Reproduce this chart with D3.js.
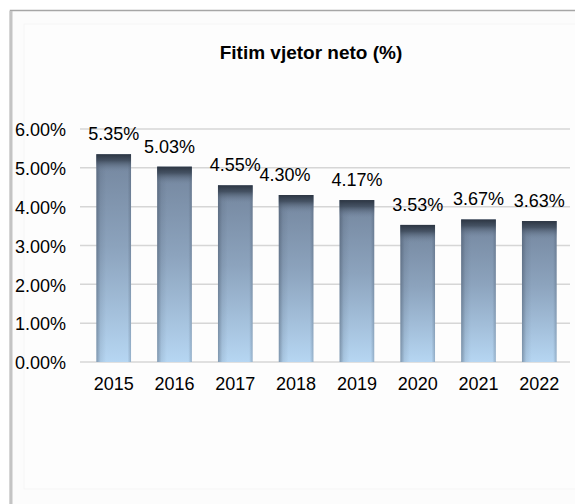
<!DOCTYPE html>
<html>
<head>
<meta charset="utf-8">
<script src="https://cdn.jsdelivr.net/npm/d3@7"></script>
<style>
    body { margin: 0; background: #ffffff; overflow: hidden; }
    svg { display: block; font-family: "Liberation Sans", Arial, sans-serif; }
</style>
</head>
<body>
<script>
"use strict";
(function(){
    // chart data
    const years = ["2015", "2016", "2017", "2018", "2019", "2020", "2021", "2022"]
    const profit = [5.35, 5.03, 4.55, 4.30, 4.17, 3.53, 3.67, 3.63]
    const yTicks = [0, 1, 2, 3, 4, 5, 6]
    const title = "Fitim vjetor neto (%)"

    // dimensions for svg
    const measurements = {
        width: 575,
        height: 504,
        left: 83,
        right: 570,
        top: 129,
        bottom: 362
    }
    // small manual shifts of some value labels, as in the original
    const labelNudge = { "2016": -5, "2018": -11 }

    const svgContainer = d3.select('body').append("svg")
        .attr('width', measurements.width)
        .attr('height', measurements.height)

    const defs = svgContainer.append("defs")

    // vertical fill of the bars
    const fillGrad = defs.append("linearGradient")
        .attr("id", "barFill").attr("x1", 0).attr("y1", 0).attr("x2", 0).attr("y2", 1)
    fillGrad.append("stop").attr("offset", "0%").attr("stop-color", "#74869e")
    fillGrad.append("stop").attr("offset", "45%").attr("stop-color", "#8ca3bd")
    fillGrad.append("stop").attr("offset", "100%").attr("stop-color", "#b6d6f2")

    // dark bevel on top of each bar
    const capGrad = defs.append("linearGradient")
        .attr("id", "barCap").attr("x1", 0).attr("y1", 0).attr("x2", 0).attr("y2", 1)
    capGrad.append("stop").attr("offset", "0%").attr("stop-color", "#2c3542").attr("stop-opacity", 1)
    capGrad.append("stop").attr("offset", "35%").attr("stop-color", "#3c4858").attr("stop-opacity", 0.85)
    capGrad.append("stop").attr("offset", "100%").attr("stop-color", "#74869e").attr("stop-opacity", 0)

    // darker side edges
    const sideGrad = defs.append("linearGradient")
        .attr("id", "barSide").attr("x1", 0).attr("y1", 0).attr("x2", 1).attr("y2", 0)
    sideGrad.append("stop").attr("offset", "0%").attr("stop-color", "#2f3a4a").attr("stop-opacity", 0.4)
    sideGrad.append("stop").attr("offset", "12%").attr("stop-color", "#2f3a4a").attr("stop-opacity", 0.1)
    sideGrad.append("stop").attr("offset", "28%").attr("stop-color", "#2f3a4a").attr("stop-opacity", 0)
    sideGrad.append("stop").attr("offset", "90%").attr("stop-color", "#2f3a4a").attr("stop-opacity", 0)
    sideGrad.append("stop").attr("offset", "100%").attr("stop-color", "#2f3a4a").attr("stop-opacity", 0.25)

    drawFrame()

    let scaleX = d3.scaleBand()
        .domain(years)
        .range([measurements.left, measurements.right])
        .paddingInner(0.43)
        .paddingOuter(0.22)

    let scaleY = d3.scaleLinear()
        .domain([0, 6])
        .range([measurements.bottom, measurements.top])

    drawAxes(scaleX, scaleY)
    plotData(scaleX, scaleY)

    function drawFrame() {
        // outer frame of the chart object, running off the right and bottom
        svgContainer.append("rect")
            .attr("x", 10.5).attr("y", 10.5)
            .attr("width", 600).attr("height", 520)
            .attr("fill", "#fcfcfc")
            .attr("stroke", "#a6a6a6")
            .attr("stroke-width", 1.5)
        svgContainer.append("line")
            .attr("x1", 11).attr("x2", 11).attr("y1", 11).attr("y2", 504)
            .attr("stroke", "#c4c4c4").attr("stroke-width", 3)
        // soft inner bevel
        svgContainer.append("rect")
            .attr("x", 24).attr("y", 24)
            .attr("width", 580).attr("height", 465)
            .attr("fill", "#fdfdfd")
            .attr("stroke", "#f5f5f5")
            .attr("stroke-width", 1)
    }

    function drawAxes(scaleX, scaleY) {
        // gridlines
        svgContainer.append('g')
            .selectAll("line")
            .data(yTicks)
            .enter()
            .append("line")
                .attr("x1", 80)
                .attr("x2", measurements.right)
                .attr("y1", d => scaleY(d))
                .attr("y2", d => scaleY(d))
                .attr("stroke", "#d6d6d6")
                .attr("stroke-width", 1.5)

        let yAxis = d3.axisLeft()
            .scale(scaleY)
            .tickValues(yTicks)
            .tickSize(0)
            .tickPadding(0)
            .tickFormat(d => d.toFixed(2) + "%")

        svgContainer.append('g')
            .attr('transform', 'translate(66, 1)')
            .call(yAxis)
            .call(g => g.select(".domain").remove())
            .selectAll("text")
                .attr("font-size", 18)
                .attr("fill", "#000")
                .attr("font-family", "Liberation Sans, Arial, sans-serif")

        let xAxis = d3.axisBottom()
            .scale(scaleX)
            .tickSize(0)
            .tickPadding(0)

        svgContainer.append('g')
            .attr('transform', 'translate(0,' + (measurements.bottom + 15) + ')')
            .call(xAxis)
            .call(g => g.select(".domain").remove())
            .selectAll("text")
                .attr("font-size", 18)
                .attr("fill", "#000")
                .attr("font-family", "Liberation Sans, Arial, sans-serif")

        svgContainer.append("text")
            .attr("x", 311)
            .attr("y", 59)
            .attr("text-anchor", "middle")
            .attr("font-size", 19)
            .attr("font-weight", "bold")
            .attr("fill", "#000")
            .text(title)
    }

    function plotData(scaleX, scaleY) {
        const rows = years.map((y, i) => ({ year: y, value: profit[i] }))
        const bw = scaleX.bandwidth()

        const bars = svgContainer.selectAll(".bar")
            .data(rows)
            .enter()
            .append("g")
                .attr("class", "bar")

        bars.append("rect")
            .attr("x", d => scaleX(d.year))
            .attr("y", d => scaleY(d.value))
            .attr("width", bw)
            .attr("height", d => scaleY(0) - scaleY(d.value))
            .attr("fill", "url(#barFill)")

        bars.append("rect")
            .attr("x", d => scaleX(d.year))
            .attr("y", d => scaleY(d.value))
            .attr("width", bw)
            .attr("height", d => scaleY(0) - scaleY(d.value))
            .attr("fill", "url(#barSide)")

        bars.append("rect")
            .attr("x", d => scaleX(d.year))
            .attr("y", d => scaleY(d.value))
            .attr("width", bw)
            .attr("height", 18)
            .attr("fill", "url(#barCap)")

        bars.append("text")
            .attr("x", d => scaleX(d.year) + bw / 2 + (labelNudge[d.year] || 0))
            .attr("y", d => scaleY(d.value) - 14)
            .attr("text-anchor", "middle")
            .attr("font-size", 18)
            .attr("fill", "#000")
            .text(d => d.value.toFixed(2) + "%")
    }
})()
</script>
</body>
</html>
